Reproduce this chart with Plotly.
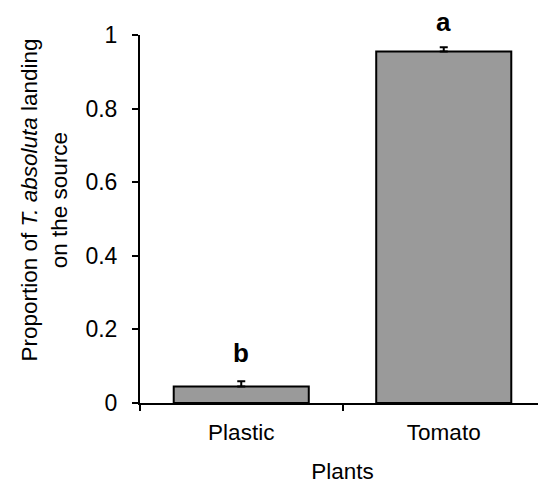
import plotly.graph_objects as go

categories = ["Plastic", "Tomato"]
values = [0.045, 0.955]
errors = [0.014, 0.012]
letters = ["b", "a"]
letter_y = [0.135, 1.035]
y_tickvals = [0, 0.2, 0.4, 0.6, 0.8, 1.0]
y_ticktext = ["0", "0.2", "0.4", "0.6", "0.8", "1"]

FONT = "Liberation Sans, Arial, sans-serif"

fig = go.Figure()
fig.add_trace(go.Bar(
    x=categories, y=values,
    marker=dict(color="#9a9a9a", line=dict(color="black", width=2)),
    error_y=dict(type="data", array=errors, symmetric=False, arrayminus=[0, 0],
                 color="black", thickness=2, width=4),
    width=0.667,
))

for c, l, ly in zip(categories, letters, letter_y):
    fig.add_annotation(x=c, y=ly, text=f"<b>{l}</b>", showarrow=False,
                       xref="x", yref="paper", yanchor="middle",
                       font=dict(family=FONT, size=26, color="black"))

fig.add_annotation(x=-0.237, y=0.55, xref="paper", yref="paper",
                   text="Proportion of <i>T. absoluta</i> landing<br>on the source",
                   textangle=-90, showarrow=False, xanchor="center", yanchor="middle",
                   font=dict(family=FONT, size=22.5, color="black"))

# page body has an 8px margin, so the figure is sized to fit the 546x484 window
fig.update_layout(
    width=538, height=476,
    margin=dict(l=132, r=1, t=27, b=72),
    paper_bgcolor="white", plot_bgcolor="white",
    showlegend=False,
    font=dict(family=FONT, size=23, color="black"),
    xaxis=dict(
        type="category", showline=True, linecolor="black", linewidth=2,
        ticks="outside", tickson="boundaries", ticklen=6, tickwidth=2, tickcolor="black",
        showgrid=False, zeroline=False,
        tickfont=dict(family=FONT, size=22.5, color="black"),
        ticklabelstandoff=8,
        title=dict(text="Plants", font=dict(family=FONT, size=22.5, color="black"), standoff=22),
    ),
    yaxis=dict(
        range=[0, 1], showline=True, linecolor="black", linewidth=2,
        ticks="outside", ticklen=6, tickwidth=2, tickcolor="black",
        tickvals=y_tickvals, ticktext=y_ticktext,
        showgrid=False, zeroline=False,
        tickfont=dict(family=FONT, size=23, color="black"),
        ticklabelstandoff=10,
    ),
)

fig.write_html("out.html")
